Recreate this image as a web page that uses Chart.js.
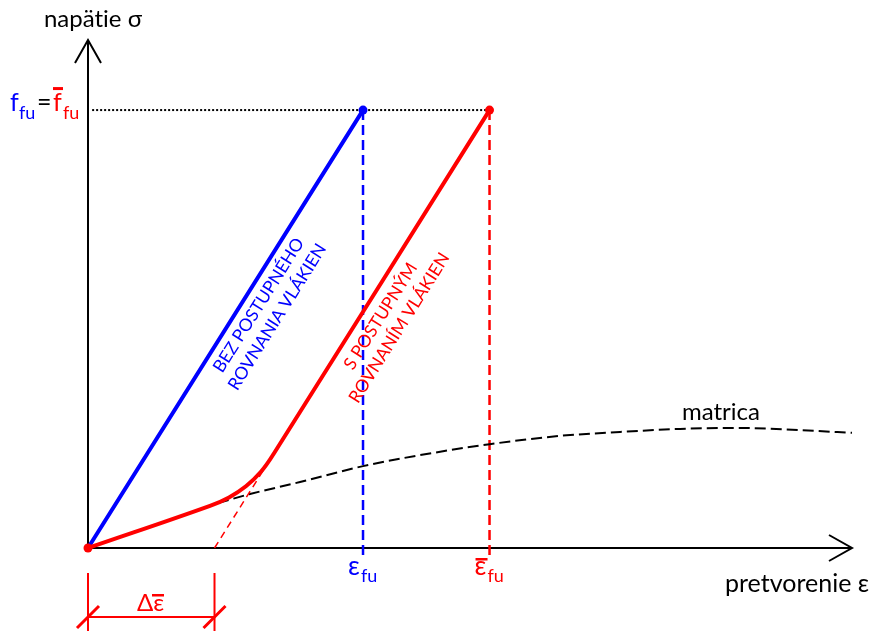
<!DOCTYPE html>
<html>
<head>
<meta charset="utf-8">
<script src="https://cdn.jsdelivr.net/npm/chart.js@4/dist/chart.umd.min.js"></script>
<style>
  html, body { margin: 0; padding: 0; background: #fff; }
  #wrap { width: 873px; height: 631px; }
</style>
</head>
<body>
<div id="wrap"><canvas id="c" width="873" height="631"></canvas></div>
<script>
// Stress–strain diagram: fibres without / with gradual straightening, plus matrix.
// Strain is expressed relative to ε_fu, stress relative to f_fu.
const epsFu = 1.0;          // ε_fu
const epsFuBar = 1.46;      // ε̄_fu
const deltaEps = 0.46;      // Δε̄ (straightening offset)
const fFu = 1.0;            // f_fu = f̄_fu
const strainMax = 2.778;
const stressMax = 1.16;

const blueStrain = [0, epsFu];
const blueStress = [0, fFu];

const redStrain = [0, 0.4436, 0.5127, 0.5742, 0.628, 0.6742, epsFuBar];
const redStress = [0, 0.0963, 0.1155, 0.141, 0.1735, 0.2142, fFu];

const matrixStrain = [0.4727, 0.589, 0.771, 1.0, 1.207, 1.46, 1.716, 1.935, 2.153, 2.371, 2.589, 2.778];
const matrixStress = [0.1027, 0.1233, 0.1507, 0.187, 0.212, 0.237, 0.256, 0.265, 0.272, 0.274, 0.269, 0.263];

const tangentStrain = [deltaEps, 0.6742];
const tangentStress = [0, 0.2142];

const pts = (xs, ys) => xs.map((x, i) => ({ x, y: ys[i] }));

const BLUE = '#0000ff';
const RED = '#ff0000';
const BLACK = '#000000';
const FONT = 'Lato, "Open Sans", sans-serif';

// axes with arrow heads, drawn under the data
const axesPlugin = {
  id: 'axesPlugin',
  beforeDatasetsDraw(chart) {
    const { ctx, scales } = chart;
    const x0 = scales.x.getPixelForValue(0);
    const y0 = scales.y.getPixelForValue(0);
    const xEnd = scales.x.getPixelForValue(strainMax);
    const yEnd = scales.y.getPixelForValue(stressMax);
    ctx.save();
    ctx.strokeStyle = BLACK;
    ctx.lineWidth = 2;
    ctx.beginPath();
    ctx.moveTo(x0, y0); ctx.lineTo(xEnd, y0);
    ctx.moveTo(x0, y0); ctx.lineTo(x0, yEnd);
    ctx.stroke();
    ctx.lineJoin = 'miter';
    ctx.beginPath();
    ctx.moveTo(xEnd - 23, y0 - 13); ctx.lineTo(xEnd, y0); ctx.lineTo(xEnd - 23, y0 + 13);
    ctx.moveTo(x0 - 13, yEnd + 23); ctx.lineTo(x0, yEnd); ctx.lineTo(x0 + 13, yEnd + 23);
    ctx.stroke();
    ctx.restore();
  }
};

const labelPlugin = {
  id: 'labelPlugin',
  afterDatasetsDraw(chart) {
    const { ctx, scales } = chart;
    const sx = v => scales.x.getPixelForValue(v);
    const sy = v => scales.y.getPixelForValue(v);
    const x0 = sx(0), y0 = sy(0);
    ctx.save();
    ctx.textBaseline = 'alphabetic';

    // axis titles
    ctx.fillStyle = BLACK;
    ctx.font = '24px ' + FONT;
    ctx.textAlign = 'center';
    ctx.fillText('napät\u200Cie σ', x0 + 5, 27);
    ctx.textAlign = 'left';
    ctx.font = '25px ' + FONT;
    ctx.fillText('pretvorenie ε', 725, y0 + 44);
    ctx.font = '24px ' + FONT;
    ctx.fillText('matrica', 682, sy(0.274) - 8);

    // f_fu = f̄_fu
    const yf = sy(fFu);
    ctx.fillStyle = BLUE;
    ctx.font = '25px ' + FONT;
    ctx.fillText('f', 10, yf + 1);
    ctx.font = '18px ' + FONT;
    ctx.fillText('fu', 19, yf + 9);
    ctx.fillStyle = BLACK;
    ctx.font = '25px ' + FONT;
    ctx.fillText('=', 37, yf + 1);
    ctx.fillStyle = RED;
    ctx.font = '25px ' + FONT;
    ctx.fillText('f', 53, yf + 1);
    ctx.fillRect(53, yf - 23, 10, 3);
    ctx.font = '18px ' + FONT;
    ctx.fillText('fu', 63, yf + 9);

    // ε_fu and ε̄_fu under the axis
    const xb = sx(epsFu), xr = sx(epsFuBar);
    ctx.fillStyle = BLUE;
    ctx.font = '26px ' + FONT;
    ctx.fillText('ε', xb - 15, y0 + 27);
    ctx.font = '18px ' + FONT;
    ctx.fillText('fu', xb - 2, y0 + 34);
    ctx.fillStyle = RED;
    ctx.font = '26px ' + FONT;
    ctx.fillText('ε', xr - 15, y0 + 27);
    ctx.fillRect(xr - 14, y0 + 10, 12, 2.5);
    ctx.font = '18px ' + FONT;
    ctx.fillText('fu', xr - 2, y0 + 34);

    // Δε̄ dimension
    const xa = x0, xd = sx(deltaEps);
    const yd = y0 + 69;
    ctx.strokeStyle = RED;
    ctx.lineWidth = 2;
    ctx.beginPath();
    ctx.moveTo(xa, y0 + 25); ctx.lineTo(xa, 631);
    ctx.moveTo(xd, y0 + 25); ctx.lineTo(xd, 631);
    ctx.moveTo(xa, yd); ctx.lineTo(xd, yd);
    ctx.stroke();
    ctx.lineWidth = 3;
    ctx.beginPath();
    ctx.moveTo(xa - 11, yd + 11); ctx.lineTo(xa + 11, yd - 11);
    ctx.moveTo(xd - 11, yd + 11); ctx.lineTo(xd + 11, yd - 11);
    ctx.stroke();
    ctx.fillStyle = RED;
    ctx.font = '24px ' + FONT;
    ctx.textAlign = 'left';
    ctx.fillText('Δε', 137, yd - 6);
    ctx.fillRect(152, yd - 23, 12, 2.5);

    // rotated labels along the fibre lines
    const ang = Math.atan2(sy(0) - sy(1), sx(1) - sx(0));
    const drawRot = (lines, cx, cy, color) => {
      ctx.save();
      ctx.translate(cx, cy);
      ctx.rotate(-ang);
      ctx.fillStyle = color;
      ctx.font = '17.5px ' + FONT;
      ctx.textAlign = 'center';
      ctx.textBaseline = 'middle';
      ctx.fillText(lines[0], 0, -11);
      ctx.fillText(lines[1], 0, 11);
      ctx.restore();
    };
    drawRot(['BEZ POSTUPNÉHO', 'ROVNANIA VLÁKIEN'], sx(0.6545), sy(0.541), BLUE);
    drawRot(['S POSTUPNÝM', 'ROVNANÍM VLÁKIEN'], sx(1.098), sy(0.516), RED);

    ctx.restore();
  }
};

new Chart(document.getElementById('c'), {
  type: 'scatter',
  data: {
    datasets: [
      { // dotted f_fu level
        data: pts([0.015, epsFuBar], [fFu, fFu]),
        showLine: true, borderColor: BLACK, borderWidth: 2, borderDash: [2, 2],
        pointRadius: 0, clip: false, order: 6
      },
      { // ε_fu marker line
        data: pts([epsFu, epsFu], [-0.016, fFu]),
        showLine: true, borderColor: BLUE, borderWidth: 2.5, borderDash: [10, 5],
        pointRadius: 0, clip: false, order: 5
      },
      { // ε̄_fu marker line
        data: pts([epsFuBar, epsFuBar], [-0.016, fFu]),
        showLine: true, borderColor: RED, borderWidth: 2.5, borderDash: [10, 5],
        pointRadius: 0, clip: false, order: 5
      },
      { // matrix
        data: pts(matrixStrain, matrixStress),
        showLine: true, borderColor: BLACK, borderWidth: 2, borderDash: [11, 5],
        tension: 0.4, cubicInterpolationMode: 'monotone',
        pointRadius: 0, clip: false, order: 4
      },
      { // tangent extension to the strain axis
        data: pts(tangentStrain, tangentStress),
        showLine: true, borderColor: RED, borderWidth: 1.5, borderDash: [7, 5],
        pointRadius: 0, clip: false, order: 3
      },
      { // fibres without gradual straightening
        data: pts(blueStrain, blueStress),
        showLine: true, borderColor: BLUE, borderWidth: 4, borderCapStyle: 'round',
        pointRadius: [0, 4.5], pointBackgroundColor: BLUE, pointBorderWidth: 0,
        clip: false, order: 2
      },
      { // fibres with gradual straightening
        data: pts(redStrain, redStress),
        showLine: true, borderColor: RED, borderWidth: 4, borderCapStyle: 'round',
        borderJoinStyle: 'round', tension: 0.4,
        pointRadius: redStrain.map((_, i) => (i === 0 || i === redStrain.length - 1) ? 4.5 : 0),
        pointBackgroundColor: RED, pointBorderWidth: 0,
        clip: false, order: 1
      }
    ]
  },
  options: {
    responsive: false,
    animation: false,
    devicePixelRatio: 1,
    layout: { padding: { left: 88, right: 21, top: 40, bottom: 83 } },
    scales: {
      x: { type: 'linear', min: 0, max: strainMax, display: false },
      y: { type: 'linear', min: 0, max: stressMax, display: false }
    },
    plugins: { legend: { display: false }, tooltip: { enabled: false } },
    events: []
  },
  plugins: [axesPlugin, labelPlugin]
});
</script>
</body>
</html>
